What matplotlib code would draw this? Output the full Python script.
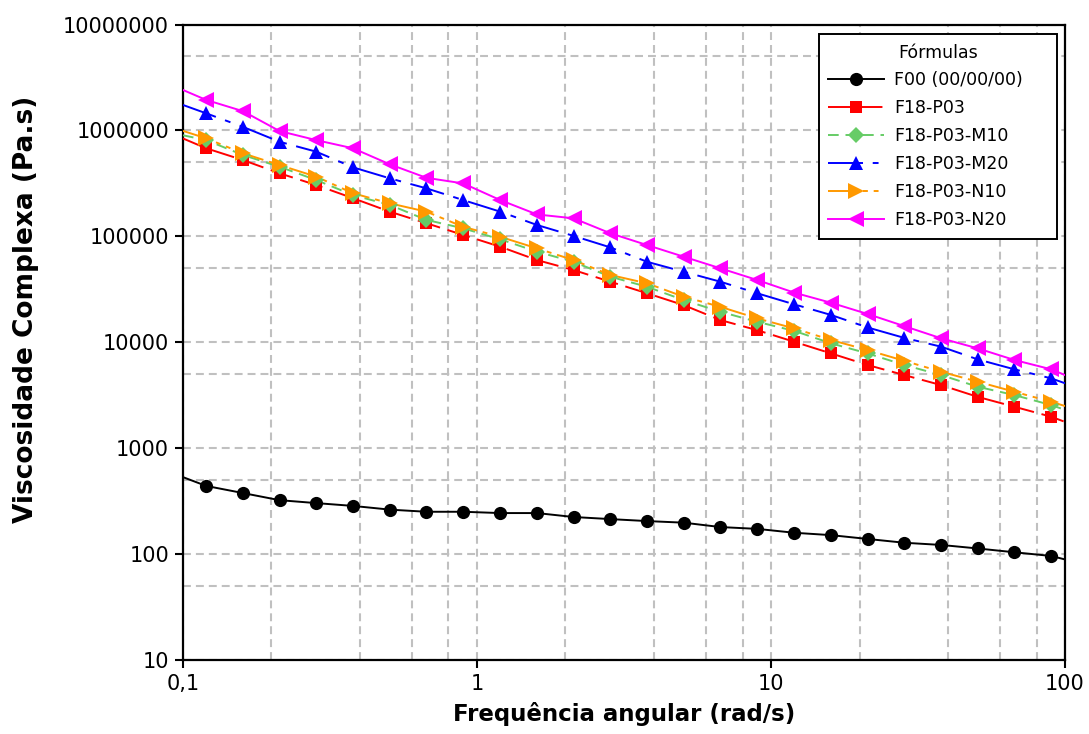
import matplotlib
matplotlib.use("Agg")
import matplotlib.pyplot as plt
from matplotlib.ticker import FixedLocator, FixedFormatter, NullFormatter

plt.rcParams['font.family'] = ['DejaVu Sans']

# Angular frequency (rad/s)
freq = [0.12, 0.16, 0.213, 0.284, 0.379, 0.505, 0.673, 0.898, 1.2, 1.6, 2.13, 2.84,
        3.79, 5.05, 6.73, 8.98, 12.0, 16.0, 21.3, 28.4, 37.9, 50.5, 67.3, 89.8]

# Complex viscosity (Pa.s) for each formulation
f00 = [440, 377, 323, 303, 285, 263, 251, 251, 244, 244, 224, 214,
       205, 198, 180, 173, 159, 151, 139, 128, 122, 113, 104, 96]
p03 = [6.78e5, 5.25e5, 3.94e5, 3.05e5, 2.29e5, 1.71e5, 1.33e5, 1.03e5, 7.98e4, 5.97e4, 4.81e4, 3.73e4,
       2.90e4, 2.24e4, 1.62e4, 1.30e4, 1.01e4, 7.85e3, 6.10e3, 4.90e3, 3.94e3, 3.05e3, 2.46e3, 1.98e3]
p03_m10 = [8.10e5, 5.86e5, 4.54e5, 3.40e5, 2.45e5, 1.98e5, 1.43e5, 1.19e5, 9.37e4, 7.17e4, 5.75e4, 4.16e4,
           3.34e4, 2.50e4, 1.94e4, 1.56e4, 1.28e4, 9.77e3, 7.85e3, 6.10e3, 4.90e3, 3.80e3, 3.17e3, 2.55e3]
p03_m20 = [1.45e6, 1.08e6, 7.82e5, 6.30e5, 4.48e5, 3.53e5, 2.84e5, 2.20e5, 1.71e5, 1.28e5, 1.01e5, 7.87e4,
           5.75e4, 4.63e4, 3.73e4, 2.90e4, 2.28e4, 1.81e4, 1.38e4, 1.10e4, 9.08e3, 6.89e3, 5.55e3, 4.56e3]
p03_n10 = [8.42e5, 6.08e5, 4.71e5, 3.66e5, 2.55e5, 2.05e5, 1.71e5, 1.23e5, 9.90e4, 7.70e4, 5.97e4, 4.32e4,
           3.60e4, 2.69e4, 2.16e4, 1.68e4, 1.35e4, 1.05e4, 8.44e3, 6.68e3, 5.27e3, 4.24e3, 3.41e3, 2.74e3]
p03_n20 = [1.94e6, 1.52e6, 9.87e5, 8.10e5, 6.78e5, 4.79e5, 3.57e5, 3.16e5, 2.20e5, 1.61e5, 1.48e5, 1.07e5,
           8.27e4, 6.42e4, 4.99e4, 3.87e4, 2.94e4, 2.36e4, 1.85e4, 1.42e4, 1.09e4, 8.75e3, 6.80e3, 5.55e3]

# Fitted curve values where each line meets the frame (x = 0.1 and x = 100)
x_edges = [0.1, 100]
edge_f00 = [533, 89]
edge_p03 = [8.4e5, 1.77e3]
edge_m10 = [9.0e5, 2.3e3]
edge_m20 = [1.74e6, 4.1e3]
edge_n10 = [9.9e5, 2.5e3]
edge_n20 = [2.41e6, 4.9e3]

labels = ["F00 (00/00/00)", "F18-P03", "F18-P03-M10", "F18-P03-M20", "F18-P03-N10", "F18-P03-N20"]
series = [f00, p03, p03_m10, p03_m20, p03_n10, p03_n20]
edges = [edge_f00, edge_p03, edge_m10, edge_m20, edge_n10, edge_n20]
colors = ["#000000", "#ff0000", "#66cc66", "#0000ff", "#ff9900", "#ff00ff"]
markers = ["o", "s", "D", "^", ">", "<"]
msizes = [9.5, 9, 8, 10.5, 11, 11]
styles = ["-", (0, (12, 4)), (0, (5.5, 3.5)), (0, (18, 5, 3, 5)),
          (0, (15, 3, 2.5, 3, 2.5, 3)), "-"]

x_ticks = [0.1, 1, 10, 100]
x_ticklabels = ["0,1", "1", "10", "100"]
y_ticks = [10, 100, 1000, 10000, 100000, 1000000, 10000000]
y_ticklabels = ["10", "100", "1000", "10000", "100000", "1000000", "10000000"]

fig = plt.figure(figsize=(10.89, 7.34), dpi=100)
ax = fig.add_axes([0.168, 0.1008, 0.81, 0.8658])

for vals, edge, c, m, ms, ls, lab in zip(series, edges, colors, markers, msizes, styles, labels):
    xs = [x_edges[0]] + freq + [x_edges[1]]
    ys = [edge[0]] + vals + [edge[1]]
    ax.plot(xs, ys, color=c, linestyle=ls, linewidth=1.4, zorder=3)
    ax.plot(freq, vals, color=c, linestyle="none", marker=m, markersize=ms,
            markeredgewidth=0, zorder=4)
    # legend proxy combining line and marker
    ax.plot([], [], color=c, linestyle=ls, linewidth=1.4, marker=m, markersize=ms,
            markeredgewidth=0, label=lab)

ax.set_xscale("log")
ax.set_yscale("log")
ax.set_xlim(0.1, 100)
ax.set_ylim(10, 1e7)

ax.xaxis.set_major_locator(FixedLocator(x_ticks))
ax.xaxis.set_major_formatter(FixedFormatter(x_ticklabels))
ax.xaxis.set_minor_locator(FixedLocator([m * 10.0 ** d for d in (-1, 0, 1) for m in (2, 4, 6, 8)]))
ax.xaxis.set_minor_formatter(NullFormatter())
ax.yaxis.set_major_locator(FixedLocator(y_ticks))
ax.yaxis.set_major_formatter(FixedFormatter(y_ticklabels))
ax.yaxis.set_minor_locator(FixedLocator([5 * 10.0 ** d for d in range(1, 7)]))
ax.yaxis.set_minor_formatter(NullFormatter())

ax.grid(True, which="both", color="#c0c0c0", linestyle=(0, (3.8, 2.4)), linewidth=1.5, zorder=0)
ax.set_axisbelow(True)

ax.tick_params(which="major", direction="out", length=6, width=1.5, labelsize=15,
               top=False, right=False, pad=4)
ax.tick_params(which="minor", length=0)
for sp in ax.spines.values():
    sp.set_linewidth(1.6)

ax.set_xlabel("Frequência angular (rad/s)", fontsize=16.5, fontweight="bold", labelpad=6)
ax.set_ylabel("Viscosidade Complexa (Pa.s)", fontsize=19, fontweight="bold")
ax.yaxis.set_label_coords(-0.163, 0.552)

leg = ax.legend(title="Fórmulas", loc="upper left", bbox_to_anchor=(0.721, 0.985, 0.27, 0.0),
                mode="expand", borderaxespad=0.0, fontsize=12.5, title_fontsize=12.5,
                numpoints=1, handlelength=3.2, handletextpad=0.6, labelspacing=0.57,
                borderpad=0.55, fancybox=False, framealpha=1, edgecolor="black")
leg.get_frame().set_linewidth(1.4)
leg._legend_box.align = "center"

fig.savefig("out.png", dpi=100)
